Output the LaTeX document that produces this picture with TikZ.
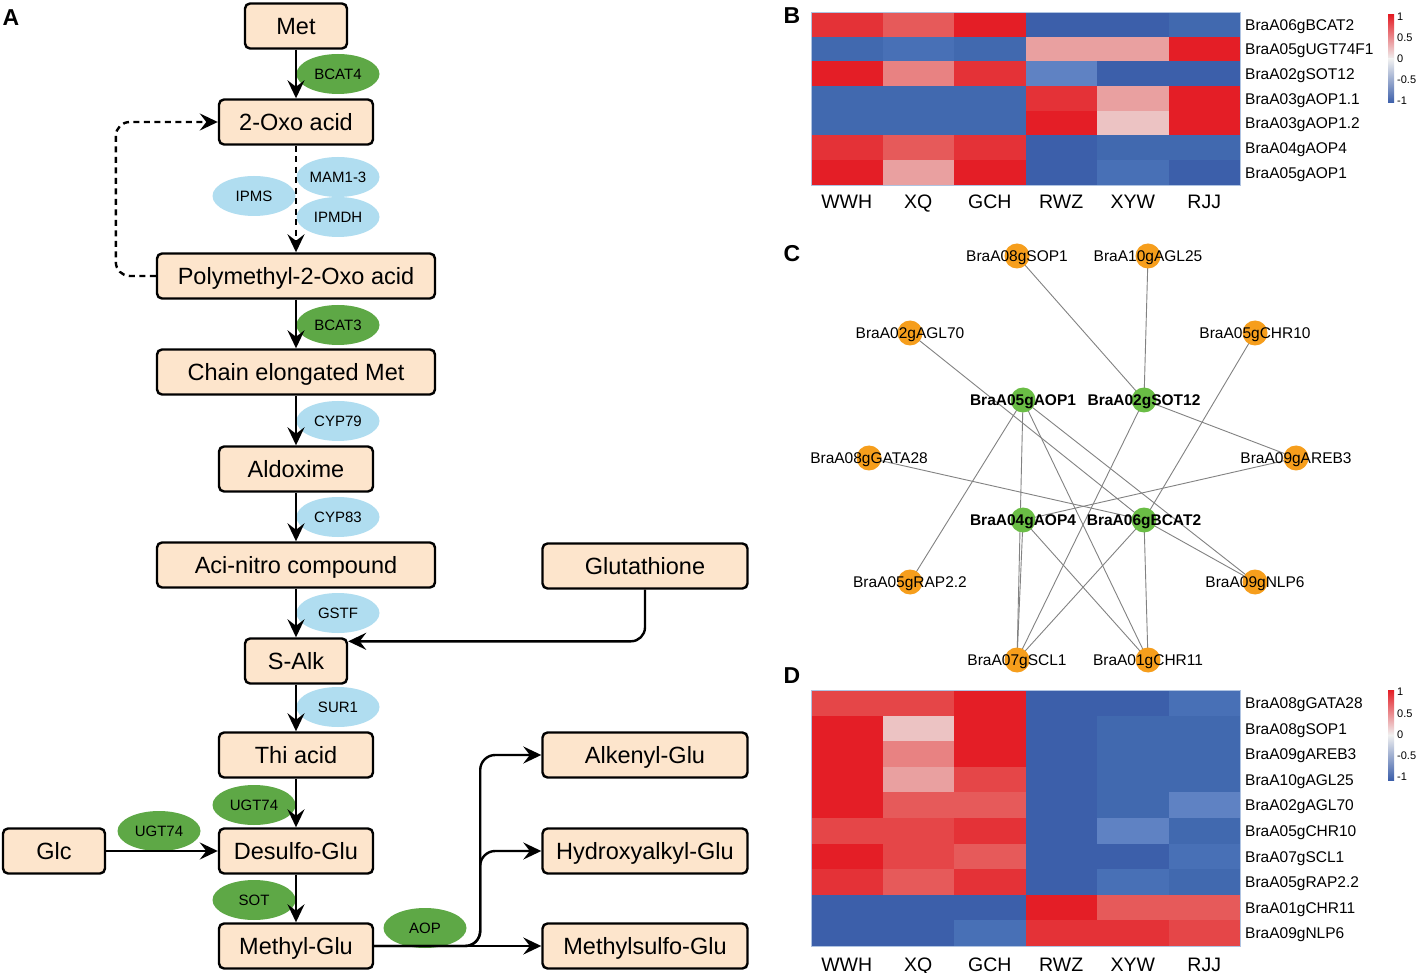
\documentclass[tikz,border=0pt]{standalone}
\usepackage{fontspec}
\setmainfont{Liberation Sans}
\usetikzlibrary{arrows.meta,calc,shapes.geometric}
\definecolor{peach}{RGB}{253,229,204}
\definecolor{egreen}{RGB}{94,168,70}
\definecolor{eblue}{RGB}{176,221,240}
\definecolor{ngreen}{RGB}{106,189,69}
\definecolor{norange}{RGB}{246,158,28}
\definecolor{edgegray}{RGB}{130,130,130}
\definecolor{R1}{RGB}{228,30,38}
\definecolor{R2}{RGB}{228,50,55}
\definecolor{R3}{RGB}{229,70,72}
\definecolor{R4}{RGB}{230,90,90}
\definecolor{R5}{RGB}{232,130,130}
\definecolor{R6}{RGB}{233,160,160}
\definecolor{R7}{RGB}{236,195,195}
\definecolor{B1}{RGB}{60,95,170}
\definecolor{B2}{RGB}{65,105,175}
\definecolor{B3}{RGB}{72,112,182}
\definecolor{B4}{RGB}{95,130,195}
\definecolor{midw}{RGB}{240,240,240}
\definecolor{hmb}{RGB}{175,195,225}
\begin{document}
\begin{tikzpicture}[x=1pt,y=-1pt,
  box/.style={draw, line width=2.4pt, rounded corners=5pt, fill=peach, minimum height=45pt, inner sep=0pt,
    text height=16.8pt, text depth=0pt, font=\fontsize{23.5}{27}\selectfont},
  enz/.style={ellipse, minimum width=83pt, minimum height=40pt, inner sep=0pt, text height=10.7pt, text depth=0pt,
    font=\fontsize{15}{18}\selectfont},
  genz/.style={enz, fill=egreen},
  benz/.style={enz, fill=eblue},
  arr/.style={line width=2.4pt, -{Stealth[length=18pt,width=17pt,inset=6.5pt]}},
  panel/.style={font=\bfseries\fontsize{23}{27}\selectfont, text height=16.5pt, text depth=0pt, inner sep=0pt},
  rowlab/.style={anchor=west, inner sep=0pt, text height=11.1pt, text depth=0pt, font=\fontsize{15.5}{18}\selectfont},
  collab/.style={inner sep=0pt, text height=14pt, text depth=0pt, font=\fontsize{19.5}{22}\selectfont},
  leglab/.style={anchor=west, inner sep=0pt, text height=7.9pt, text depth=0pt, font=\fontsize{11}{12}\selectfont},
  onode/.style={circle, fill=norange, minimum size=25pt, inner sep=0pt},
  gnode/.style={circle, fill=ngreen, minimum size=25pt, inner sep=0pt},
  nlab/.style={inner sep=0pt, text height=11.1pt, text depth=0pt, font=\fontsize{15.5}{18}\selectfont},
  gnlab/.style={nlab, font=\bfseries\fontsize{15.5}{18}\selectfont},
  nedge/.style={draw=edgegray, line width=0.9pt}
]
\useasboundingbox[fill=white] (0,0) rectangle (1417,973);

% ---------------- Panel A ----------------
\node[panel] (pA) at (11,17) {A};
\node[box, minimum width=102pt] (met) at (296,26) {Met};
\node[box, minimum width=154pt] (oxo) at (296,122) {2-Oxo acid};
\node[box, minimum width=278pt] (poly) at (296,276) {Polymethyl-2-Oxo acid};
\node[box, minimum width=278pt] (chain) at (296,372) {Chain elongated Met};
\node[box, minimum width=154pt] (aldox) at (296,469) {Aldoxime};
\node[box, minimum width=278pt] (aci) at (296,565) {Aci-nitro compound};
\node[box, minimum width=205pt] (glut) at (645,566) {Glutathione};
\node[box, minimum width=102pt] (salk) at (296,661) {S-Alk};
\node[box, minimum width=154pt] (thi) at (296,755) {Thi acid};
\node[box, minimum width=102pt] (glc) at (54,851) {Glc};
\node[box, minimum width=154pt] (desulfo) at (296,851) {Desulfo-Glu};
\node[box, minimum width=154pt] (methyl) at (296,946) {Methyl-Glu};
\node[box, minimum width=205pt] (alk) at (645,755) {Alkenyl-Glu};
\node[box, minimum width=205pt] (hyd) at (645,851) {Hydroxyalkyl-Glu};
\node[box, minimum width=205pt] (msg) at (645,946) {Methylsulfo-Glu};

\node[genz] (e1) at (338,74) {BCAT4};
\node[benz] (e2) at (338,177) {MAM1-3};
\node[benz] (e3) at (254,196) {IPMS};
\node[benz] (e4) at (338,217) {IPMDH};
\node[genz] (e5) at (338,325) {BCAT3};
\node[benz] (e6) at (338,421) {CYP79};
\node[benz] (e7) at (338,517) {CYP83};
\node[benz] (e8) at (338,613) {GSTF};
\node[benz] (e9) at (338,707) {SUR1};
\node[genz] (e10) at (254,805) {UGT74};
\node[genz] (e11) at (159,831) {UGT74};
\node[genz] (e12) at (254,900) {SOT};
\node[genz] (e13) at (425,928) {AOP};

\draw[arr] (met) -- (oxo);
\draw[arr, dash pattern=on 6pt off 4.5pt] (oxo) -- (poly);
\draw[arr, dash pattern=on 6pt off 4.5pt, rounded corners=14pt] (poly.west) -- ++(-40,0) |- (oxo.west);
\draw[arr] (poly) -- (chain);
\draw[arr] (chain) -- (aldox);
\draw[arr] (aldox) -- (aci);
\draw[arr] (aci) -- (salk);
\draw[arr, rounded corners=14pt] (glut.south) |- ($(salk.north east)+(0,4)$);
\draw[arr] (salk) -- (thi);
\draw[arr] (thi) -- (desulfo);
\draw[arr] (glc) -- (desulfo);
\draw[arr] (desulfo) -- (methyl);
\draw[arr] (methyl) -- (msg);
\draw[arr, rounded corners=15pt] (methyl.east) -- ++(106,0) |- (alk.west);
\draw[arr, rounded corners=15pt] (methyl.east) -- ++(106,0) |- (hyd.west);

% ---------------- Panel B ----------------
\node[panel] (pB) at (792,15) {B};
\foreach \rowc [count=\i from 0] in {{R2,R4,R1,B1,B1,B2},{B2,B3,B2,R6,R6,R1},{R1,R5,R2,B4,B1,B1},{B2,B2,B2,R2,R6,R1},{B2,B2,B2,R1,R7,R1},{R2,R4,R2,B1,B2,B2},{R1,R6,R1,B1,B3,B1}}
  \foreach \c [count=\j from 0] in \rowc
    \fill[\c] ({811+71.5*\j},{12+24.7*\i}) rectangle ++(72,25.2);
\draw[hmb, line width=0.6pt] (811,12) rectangle (1240,185);
\foreach \t [count=\i from 0] in {BraA06gBCAT2,BraA05gUGT74F1,BraA02gSOT12,BraA03gAOP1.1,BraA03gAOP1.2,BraA04gAOP4,BraA05gAOP1}
  \node[rowlab] (br\i) at (1245,{24.5+24.7*\i}) {\t};
\foreach \t [count=\j from 0] in {WWH,XQ,GCH,RWZ,XYW,RJJ}
  \node[collab] (bc\j) at ({846.75+71.5*\j},202) {\t};
\shade[top color=R1, bottom color=midw] (1388,15) rectangle (1394,59);
\shade[top color=midw, bottom color=B1] (1388,59) rectangle (1394,103);
\node[leglab] (bl1) at (1397,17) {1};
\node[leglab] (bl2) at (1397,38) {0.5};
\node[leglab] (bl3) at (1397,59) {0};
\node[leglab] (bl4) at (1397,80) {-0.5};
\node[leglab] (bl5) at (1397,101) {-1};

% ---------------- Panel C ----------------
\node[panel] (pC) at (792,253) {C};
\coordinate (cSOP1) at (1017,256);
\coordinate (cAGL25) at (1148,256);
\coordinate (cAGL70) at (910,333);
\coordinate (cCHR10) at (1255,333);
\coordinate (cAOP1) at (1023,400);
\coordinate (cSOT12) at (1144,400);
\coordinate (cGATA28) at (869,458);
\coordinate (cAREB3) at (1296,458);
\coordinate (cAOP4) at (1023,520);
\coordinate (cBCAT2) at (1144,520);
\coordinate (cRAP) at (910,582);
\coordinate (cNLP6) at (1255,582);
\coordinate (cSCL1) at (1017,660);
\coordinate (cCHR11) at (1148,660);
\foreach \a/\b in {cSOP1/cSOT12,cAGL25/cSOT12,cAGL70/cBCAT2,cCHR10/cBCAT2,cAOP1/cRAP,cAOP1/cSCL1,cAOP1/cCHR11,cAOP1/cNLP6,cSOT12/cAREB3,cSOT12/cSCL1,cGATA28/cBCAT2,cAREB3/cAOP4,cAOP4/cCHR11,cAOP4/cSCL1,cBCAT2/cNLP6,cBCAT2/cSCL1,cBCAT2/cCHR11}
  \draw[nedge] (\a) -- (\b);
\foreach \p in {cSOP1,cAGL25,cAGL70,cCHR10,cGATA28,cAREB3,cRAP,cNLP6,cSCL1,cCHR11}
  \node[onode] (n\p) at (\p) {};
\foreach \p in {cAOP1,cSOT12,cAOP4,cBCAT2}
  \node[gnode] (n\p) at (\p) {};
\node[nlab] (lSOP1) at (cSOP1) {BraA08gSOP1};
\node[nlab] (lAGL25) at (cAGL25) {BraA10gAGL25};
\node[nlab] (lAGL70) at (cAGL70) {BraA02gAGL70};
\node[nlab] (lCHR10) at (cCHR10) {BraA05gCHR10};
\node[gnlab] (lAOP1) at (cAOP1) {BraA05gAOP1};
\node[gnlab] (lSOT12) at (cSOT12) {BraA02gSOT12};
\node[nlab] (lGATA28) at (cGATA28) {BraA08gGATA28};
\node[nlab] (lAREB3) at (cAREB3) {BraA09gAREB3};
\node[gnlab] (lAOP4) at (cAOP4) {BraA04gAOP4};
\node[gnlab] (lBCAT2) at (cBCAT2) {BraA06gBCAT2};
\node[nlab] (lRAP) at (cRAP) {BraA05gRAP2.2};
\node[nlab] (lNLP6) at (cNLP6) {BraA09gNLP6};
\node[nlab] (lSCL1) at (cSCL1) {BraA07gSCL1};
\node[nlab] (lCHR11) at (cCHR11) {BraA01gCHR11};

% ---------------- Panel D ----------------
\node[panel] (pD) at (792,675) {D};
\foreach \rowc [count=\i from 0] in {{R3,R3,R1,B1,B1,B3},{R1,R7,R1,B1,B2,B2},{R1,R5,R1,B1,B2,B2},{R1,R6,R3,B1,B2,B2},{R1,R4,R4,B1,B2,B4},{R3,R3,R2,B1,B4,B2},{R1,R3,R4,B1,B1,B3},{R2,R4,R2,B1,B3,B2},{B1,B1,B1,R1,R4,R4},{B1,B1,B3,R2,R2,R3}}
  \foreach \c [count=\j from 0] in \rowc
    \fill[\c] ({811+71.5*\j},{690+25.6*\i}) rectangle ++(72,26);
\draw[hmb, line width=0.6pt] (811,690) rectangle (1240,946);
\foreach \t [count=\i from 0] in {BraA08gGATA28,BraA08gSOP1,BraA09gAREB3,BraA10gAGL25,BraA02gAGL70,BraA05gCHR10,BraA07gSCL1,BraA05gRAP2.2,BraA01gCHR11,BraA09gNLP6}
  \node[rowlab] (dr\i) at (1245,{703+25.6*\i}) {\t};
\foreach \t [count=\j from 0] in {WWH,XQ,GCH,RWZ,XYW,RJJ}
  \node[collab] (dc\j) at ({846.75+71.5*\j},964) {\t};
\shade[top color=R1, bottom color=midw] (1388,690) rectangle (1394,735);
\shade[top color=midw, bottom color=B1] (1388,735) rectangle (1394,780);
\node[leglab] (dl1) at (1397,692) {1};
\node[leglab] (dl2) at (1397,714) {0.5};
\node[leglab] (dl3) at (1397,735) {0};
\node[leglab] (dl4) at (1397,756) {-0.5};
\node[leglab] (dl5) at (1397,777) {-1};
\end{tikzpicture}
\end{document}
